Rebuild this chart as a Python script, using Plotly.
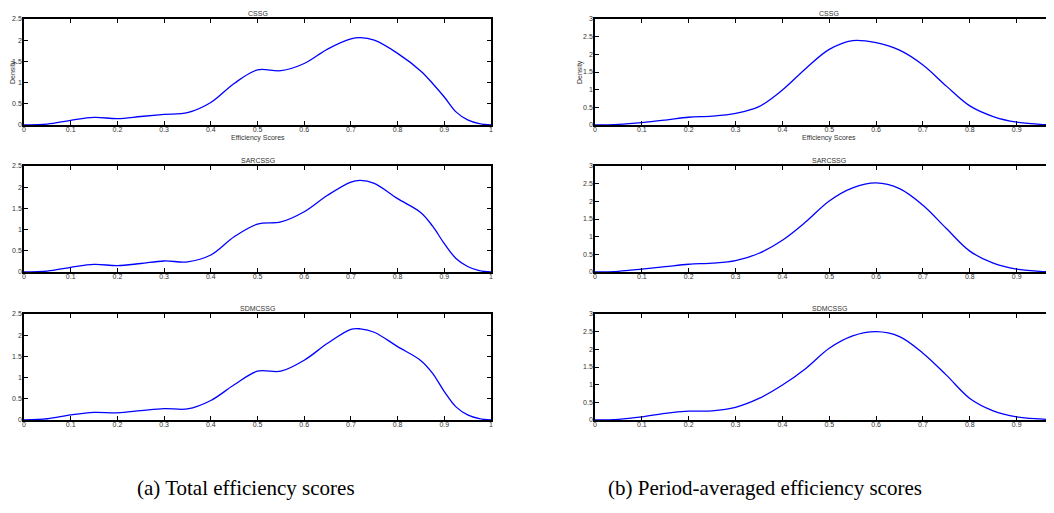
import plotly.graph_objects as go

# ---------------- data ----------------
x_total = [0.0, 0.05, 0.1, 0.15, 0.2, 0.25, 0.3, 0.35, 0.4, 0.45, 0.5, 0.55, 0.6, 0.65,
           0.7, 0.72, 0.75, 0.8, 0.85, 0.875, 0.9, 0.925, 0.95, 0.975, 1.0]
cssg_total = [0.0, 0.02, 0.11, 0.18, 0.15, 0.2, 0.25, 0.29, 0.53, 0.98, 1.30, 1.28, 1.45, 1.79,
              2.03, 2.06, 2.0, 1.69, 1.27, 0.98, 0.66, 0.31, 0.12, 0.03, 0.0]
sarcssg_total = [0.0, 0.02, 0.11, 0.18, 0.15, 0.2, 0.26, 0.24, 0.40, 0.83, 1.13, 1.18, 1.42, 1.81,
                 2.12, 2.16, 2.09, 1.73, 1.40, 1.08, 0.67, 0.32, 0.13, 0.03, 0.0]
sdmcssg_total = [0.0, 0.03, 0.12, 0.18, 0.17, 0.22, 0.27, 0.26, 0.46, 0.83, 1.15, 1.15, 1.41, 1.81,
                 2.14, 2.15, 2.07, 1.73, 1.40, 1.10, 0.67, 0.31, 0.12, 0.03, 0.0]

x_avg = [0.0, 0.05, 0.1, 0.15, 0.2, 0.25, 0.3, 0.35, 0.4, 0.45, 0.5, 0.55, 0.6, 0.65,
         0.7, 0.75, 0.8, 0.85, 0.9, 0.95, 1.0]
cssg_avg = [0.0, 0.02, 0.07, 0.14, 0.22, 0.25, 0.33, 0.52, 0.99, 1.60, 2.14, 2.39, 2.33, 2.12,
            1.70, 1.10, 0.54, 0.24, 0.08, 0.02, 0.0]
sarcssg_avg = [0.0, 0.02, 0.08, 0.15, 0.22, 0.25, 0.32, 0.53, 0.90, 1.42, 2.01, 2.38, 2.52, 2.36,
               1.89, 1.23, 0.59, 0.25, 0.08, 0.02, 0.0]
sdmcssg_avg = [0.0, 0.02, 0.09, 0.19, 0.25, 0.26, 0.36, 0.61, 0.99, 1.46, 2.03, 2.38, 2.50, 2.36,
               1.89, 1.27, 0.61, 0.26, 0.09, 0.03, 0.0]

titles = ["CSSG", "SARCSSG", "SDMCSSG"]
left_series = [cssg_total, sarcssg_total, sdmcssg_total]
right_series = [cssg_avg, sarcssg_avg, sdmcssg_avg]
left_yticks = [0, 0.5, 1, 1.5, 2, 2.5]
right_yticks = [0, 0.5, 1, 1.5, 2, 2.5, 3]
x_ticks = [0, 0.1, 0.2, 0.3, 0.4, 0.5, 0.6, 0.7, 0.8, 0.9, 1]
captions = ["(a) Total efficiency scores", "(b) Period-averaged efficiency scores"]

# ---------------- layout helpers ----------------
# the page body has an 8px margin, so the figure is sized to fit the window
OFF = 8
W, H = 1054 - OFF, 513 - OFF
def px_x(p):
    return (p - OFF) / W
def px_y(p):
    return 1 - (p - OFF) / H

left_dom = [px_x(24), px_x(491)]
right_dom = [px_x(595), 1.0]
right_xmax = (1054 - 595) / 468.5
row_px = [(19, 125), (166, 272), (314, 420)]

tick_font = dict(family="Liberation Sans, Arial, sans-serif", size=7, color="#333333")
label_font = dict(family="Liberation Sans, Arial, sans-serif", size=7, color="#333333")
fig = go.Figure()
layout = dict(
    width=W, height=H, margin=dict(l=0, r=0, t=0, b=0, autoexpand=False),
    paper_bgcolor="white", plot_bgcolor="white", showlegend=False,
    annotations=[],
)

def axis_common():
    return dict(showgrid=False, zeroline=False, showline=True, linecolor="black",
                linewidth=1.5, ticks="inside", ticklen=4, tickwidth=1.2,
                tickcolor="black", tickfont=tick_font, automargin=False)

for i in range(3):
    top, bot = row_px[i]
    ydom = [px_y(bot), px_y(top)]
    for side in range(2):
        n = 2 * i + side + 1
        xa = "x" if n == 1 else f"x{n}"
        ya = "y" if n == 1 else f"y{n}"
        xkey = "xaxis" if n == 1 else f"xaxis{n}"
        ykey = "yaxis" if n == 1 else f"yaxis{n}"
        if side == 0:
            xs, ys, yt, yr, xr, dom = x_total, left_series[i], left_yticks, [0, 2.5], [0, 1], left_dom
        else:
            xs, ys, yt, yr, xr, dom = x_avg, right_series[i], right_yticks, [0, 3], [0, right_xmax], right_dom
        fig.add_trace(go.Scatter(x=xs, y=ys, mode="lines", xaxis=xa, yaxis=ya,
                                 line=dict(color="#0000ff", width=1.3, shape="spline", smoothing=1.0),
                                 hoverinfo="skip"))
        xax = axis_common()
        xax.update(domain=dom, range=xr, anchor=ya, tickvals=x_ticks,
                   ticktext=[f"{v:g}" for v in x_ticks], mirror="ticks",
                   ticklabelstandoff=-3)
        yax = axis_common()
        yax.update(domain=ydom, range=yr, anchor=xa, tickvals=yt,
                   ticktext=[f"{v:g}" for v in yt], mirror="ticks" if side == 0 else False,
                   ticklabelstandoff=-1)
        layout[xkey] = xax
        layout[ykey] = yax
        # panel title
        layout["annotations"].append(dict(
            text=titles[i], x=0.5, xref=xa, y=px_y(top - 6), yref="paper",
            showarrow=False, font=label_font, xanchor="center", yanchor="middle"))
        if i == 0:
            layout["annotations"].append(dict(
                text="Efficiency Scores", x=0.5, xref=xa, y=px_y(bot + 13), yref="paper",
                showarrow=False, font=label_font, xanchor="center", yanchor="middle"))
            lab_x = 13 if side == 0 else 580
            layout["annotations"].append(dict(
                text="Density", x=px_x(lab_x), xref="paper", y=px_y((top + bot) / 2), yref="paper",
                textangle=-90, showarrow=False, font=label_font,
                xanchor="center", yanchor="middle"))

for cx, cap in zip([246, 765], captions):
    layout["annotations"].append(dict(
        text=cap, x=px_x(cx), xref="paper", y=px_y(488), yref="paper", showarrow=False,
        font=dict(family="Liberation Serif, serif", size=21, color="black"),
        xanchor="center", yanchor="middle"))

fig.update_layout(**layout)
fig.write_html("out.html")
